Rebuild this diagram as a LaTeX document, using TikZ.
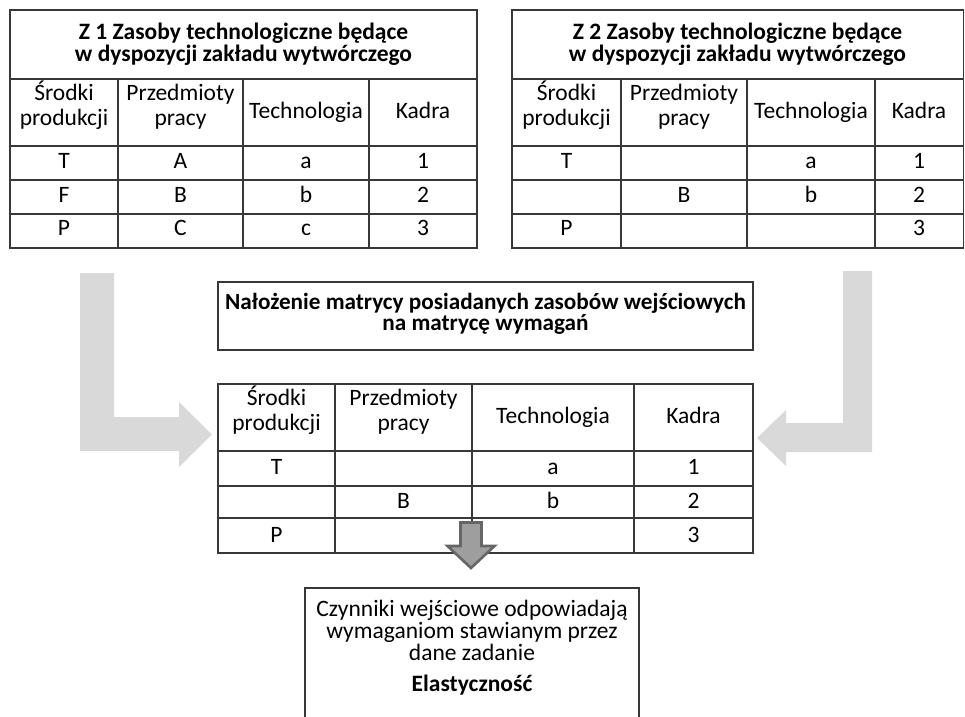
\documentclass[tikz,border=0pt]{standalone}
\usepackage{fontspec}
\setmainfont{Carlito}
% invisible first-line strut: every text node hangs from a height of 1em
\newcommand\fl{\rule{0pt}{1em}}
\begin{document}
\setlength{\lineskiplimit}{-20pt}
\begin{tikzpicture}[x=1pt,y=-1pt,
  grid/.style={draw=black!78, line width=1.3pt},
  % nodes are placed at the baseline of their first line
  bl/.style={anchor=north, yshift=23.5pt, inner sep=0pt, align=center},
  cell/.style={bl, font=\fontsize{23.5}{25}\selectfont},
  ttl/.style={bl, font=\bfseries\fontsize{23.5}{22}\selectfont},
  captext/.style={bl, yshift=-0.3pt, font=\bfseries\fontsize{23.2}{21.5}\selectfont},
  txt/.style={bl, font=\fontsize{23.5}{22}\selectfont},
  lightarrow/.style={fill=black!15, draw=none},
  darkarrow/.style={fill=black!38, draw=black!60, line width=2.6pt, line join=miter}]
\useasboundingbox (0,0) rectangle (965,716);

% ---------- light grey bent arrows (behind everything) ----------
\fill[lightarrow] (80,273) -- (114,273) -- (114,417) -- (179,417) -- (179,402)
  -- (212,434.5) -- (179,467) -- (179,451) -- (80,451) -- cycle;
\fill[lightarrow] (843,271) -- (872,271) -- (872,452) -- (786,452) -- (786,466)
  -- (757,438) -- (786,410) -- (786,423) -- (843,423) -- cycle;

% ---------- table Z 1 ----------
\draw[grid] (10,10) rectangle (477,248);
\draw[grid] (10,79) -- (477,79) (10,146) -- (477,146)
  (10,180) -- (477,180) (10,214) -- (477,214);
\draw[grid] (118,79) -- (118,248) (243,79) -- (243,248) (369,79) -- (369,248);
\node[ttl] (z1title) at (243.5,39) {\fl Z 1 Zasoby technologiczne będące\\w dyspozycji zakładu wytwórczego};
\node[cell] (z1h1) at (64,100) {\fl Środki\\produkcji};
\node[cell] (z1h2) at (180.5,100) {\fl Przedmioty\\pracy};
\node[cell] (z1h3) at (306,118) {\fl Technologia};
\node[cell] (z1h4) at (423,118) {\fl Kadra};
\node[cell] (z1a1) at (64,168) {\fl T};
\node[cell] (z1a2) at (180.5,168) {\fl A};
\node[cell] (z1a3) at (306,168) {\fl a};
\node[cell] (z1a4) at (423,168) {\fl 1};
\node[cell] (z1b1) at (64,202) {\fl F};
\node[cell] (z1b2) at (180.5,202) {\fl B};
\node[cell] (z1b3) at (306,202) {\fl b};
\node[cell] (z1b4) at (423,202) {\fl 2};
\node[cell] (z1c1) at (64,235) {\fl P};
\node[cell] (z1c2) at (180.5,235) {\fl C};
\node[cell] (z1c3) at (306,235) {\fl c};
\node[cell] (z1c4) at (423,235) {\fl 3};

% ---------- table Z 2 ----------
\draw[grid] (512,10) rectangle (963.5,248);
\draw[grid] (512,79) -- (963.5,79) (512,146) -- (963.5,146)
  (512,180) -- (963.5,180) (512,214) -- (963.5,214);
\draw[grid] (621,79) -- (621,248) (747,79) -- (747,248) (875,79) -- (875,248);
\node[ttl] (z2title) at (737.5,39) {\fl Z 2 Zasoby technologiczne będące\\w dyspozycji zakładu wytwórczego};
\node[cell] (z2h1) at (566.5,100) {\fl Środki\\produkcji};
\node[cell] (z2h2) at (684,100) {\fl Przedmioty\\pracy};
\node[cell] (z2h3) at (811,118) {\fl Technologia};
\node[cell] (z2h4) at (919,118) {\fl Kadra};
\node[cell] (z2a1) at (566.5,168) {\fl T};
\node[cell] (z2a3) at (811,168) {\fl a};
\node[cell] (z2a4) at (919,168) {\fl 1};
\node[cell] (z2b2) at (684,202) {\fl B};
\node[cell] (z2b3) at (811,202) {\fl b};
\node[cell] (z2b4) at (919,202) {\fl 2};
\node[cell] (z2c1) at (566.5,235) {\fl P};
\node[cell] (z2c4) at (919,235) {\fl 3};

% ---------- overlay caption ----------
\draw[grid] (218,282) rectangle (753,350);
\node[captext] (overlay) at (485.5,309)
  {\fl Nałożenie matrycy posiadanych zasobów wejściowych\\na matrycę wymagań};

% ---------- resulting table ----------
\draw[grid] (218,384) rectangle (753,553);
\draw[grid] (218,451) -- (753,451) (218,486) -- (753,486) (218,518) -- (753,518);
\draw[grid] (335,384) -- (335,553) (472,384) -- (472,553) (634,384) -- (634,553);
\node[cell] (rh1) at (276.5,405) {\fl Środki\\produkcji};
\node[cell] (rh2) at (403.5,405) {\fl Przedmioty\\pracy};
\node[cell] (rh3) at (553,423) {\fl Technologia};
\node[cell] (rh4) at (693.5,423) {\fl Kadra};
\node[cell] (ra1) at (276.5,474) {\fl T};
\node[cell] (ra3) at (553,474) {\fl a};
\node[cell] (ra4) at (693.5,474) {\fl 1};
\node[cell] (rb2) at (403.5,508) {\fl B};
\node[cell] (rb3) at (553,508) {\fl b};
\node[cell] (rb4) at (693.5,508) {\fl 2};
\node[cell] (rc1) at (276.5,542) {\fl P};
\node[cell] (rc4) at (693.5,542) {\fl 3};

% ---------- dark down arrow ----------
\filldraw[darkarrow] (460.5,522.5) -- (481.5,522.5) -- (481.5,546) -- (494.5,546)
  -- (471,568) -- (447.5,546) -- (460.5,546) -- cycle;

% ---------- conclusion box (open at the bottom) ----------
\draw[grid] (305,720) -- (305,588) -- (639,588) -- (639,720);
\node[txt] (concl) at (472,616)
  {\fl Czynniki wejściowe odpowiadają\\wymaganiom stawianym przez\\dane zadanie};
\node[ttl] (elast) at (472,691) {\fl Elastyczność};
\end{tikzpicture}
\end{document}
